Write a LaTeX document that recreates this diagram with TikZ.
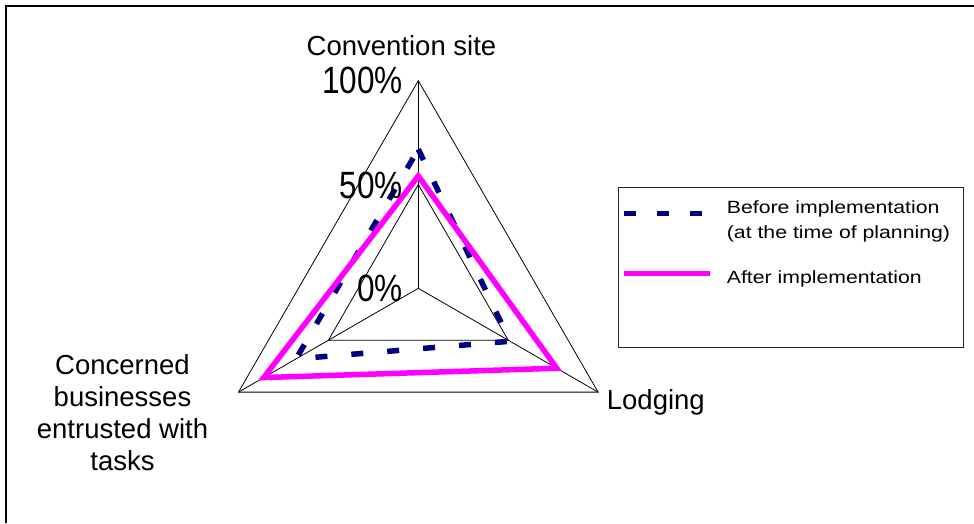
\documentclass[tikz,border=0pt]{standalone}
\usepackage{fontspec}
\setmainfont{Liberation Sans}
\usetikzlibrary{calc}

\definecolor{beforeblue}{RGB}{0,0,128}
\definecolor{aftermagenta}{RGB}{255,0,255}

\tikzset{
  gridline/.style={black, line width=0.8pt},
  frameline/.style={black, line width=2pt},
  beforeline/.style={beforeblue, line width=5.5pt, dash pattern=on 12pt off 24pt, line cap=butt, line join=miter},
  afterline/.style={aftermagenta, line width=5.5pt, line join=miter},
  axislabel/.style={inner sep=0pt, font=\fontsize{27.5}{31.7}\selectfont},
  pctlabel/.style={inner sep=0pt, anchor=base east, font=\fontsize{38}{42}\selectfont},
  legendtext/.style={inner sep=0pt, anchor=base west, font=\fontsize{17.7}{20}\selectfont},
}

\begin{document}
\begin{tikzpicture}[x=1pt,y=-1pt]
  % page area
  \useasboundingbox (0,0) rectangle (974,523);

  % outer frame (runs off the right and bottom edges)
  \draw[frameline] (6,523) -- (6,6.3) -- (974,6.3);

  % radar chart, centred on the common origin of the three axes
  \begin{scope}[shift={(418.3,288.3)}]
    \def\R{207.6}
    \coordinate (o)  at (0,0);
    \coordinate (t1) at (-90:\R);
    \coordinate (r1) at (30:\R);
    \coordinate (l1) at (150:\R);
    \coordinate (t5) at (-90:0.5*\R);
    \coordinate (r5) at (30:0.5*\R);
    \coordinate (l5) at (150:0.5*\R);

    % grid: spokes, 50% and 100% rings
    \draw[gridline] (o) -- (t1);
    \draw[gridline] (o) -- (r1);
    \draw[gridline] (o) -- (l1);
    \draw[gridline] (t5) -- (r5) -- (l5) -- cycle;
    \draw[gridline] (t1) -- (r1) -- (l1) -- cycle;

    % series: before implementation
    \coordinate (bt) at (-90:0.67*\R);
    \coordinate (br) at (30:0.51*\R);
    \coordinate (bl) at (150:0.68*\R);
    \draw[beforeline] (bt) -- (br) -- (bl) -- cycle;

    % series: after implementation
    \coordinate (at) at (-90:0.541*\R);
    \coordinate (ar) at (30:0.77*\R);
    \coordinate (al) at (150:0.86*\R);
    \draw[afterline] (at) -- (ar) -- (al) -- cycle;
  \end{scope}

  % axis names
  \node[axislabel, anchor=base] (conv) at (401.5,55) {Convention site};
  \node[axislabel, anchor=base west] (lodg) at (606.7,409.3) {Lodging};
  % base anchor of a multi-line node sits on its last line
  \node[axislabel, anchor=base, align=center] (conc) at (122.5,470)
    {Concerned\\businesses\\entrusted with\\tasks};

  % scale labels
  \node[pctlabel] (p100) at (403,93.5) {\scalebox{0.83}[1]{100\%}};
  \node[pctlabel] (p50)  at (403,198.3) {\scalebox{0.83}[1]{50\%}};
  \node[pctlabel] (p0)   at (403,301.7) {\scalebox{0.83}[1]{0\%}};

  % legend
  \node[draw=black!85, line width=0.9pt, inner sep=0pt, anchor=north west,
        minimum width=345pt, minimum height=160pt] (legend) at (618.3,186.7) {};
  \coordinate (lb1) at (624,213.3);
  \coordinate (lb2) at (702,213.3);
  \draw[beforeblue, line width=5.5pt, dash pattern=on 12pt off 21pt, line cap=butt] (lb1) -- (lb2);
  \coordinate (la1) at (624,273.3);
  \coordinate (la2) at (710,273.3);
  \draw[afterline] (la1) -- (la2);
  \node[legendtext] (legb1) at (726.7,213.3) {\scalebox{1.2}[1]{Before implementation}};
  \node[legendtext] (legb2) at (726.7,238.3) {\scalebox{1.2}[1]{(at the time of planning)}};
  \node[legendtext] (lega)  at (726.7,283.3) {\scalebox{1.2}[1]{After implementation}};
\end{tikzpicture}
\end{document}
